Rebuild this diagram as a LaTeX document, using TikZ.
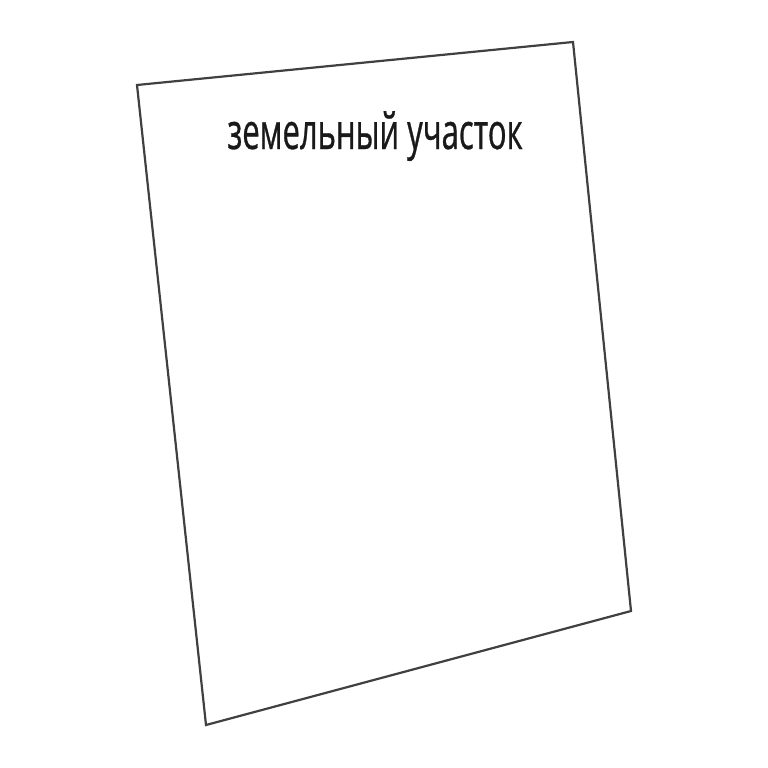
\documentclass[tikz,border=0pt]{standalone}
\usepackage{fontspec}
\newfontfamily\plotfont[FakeStretch=0.62,FakeBold=0.6]{Open Sans}
\usetikzlibrary{positioning}

\begin{document}
\begin{tikzpicture}[
    x=1pt, y=-1pt,
    plot/.style={
        draw=black!75,
        line width=2.2pt,
        line join=miter
    },
    plotlabel/.style={
        font=\plotfont\fontsize{50}{58}\selectfont,
        text=black!90,
        inner sep=0pt,
        anchor=base
    }
]
\useasboundingbox (0,0) rectangle (768,768);

% corners of the plot
\coordinate (nw) at (137,85);
\coordinate (ne) at (573,42);
\coordinate (se) at (631,611);
\coordinate (sw) at (206,725);

\draw[plot] (nw) -- (ne) -- (se) -- (sw) -- cycle;

% label
\node[plotlabel] (label) at (375,149) {земельный участок};

\end{tikzpicture}
\end{document}
